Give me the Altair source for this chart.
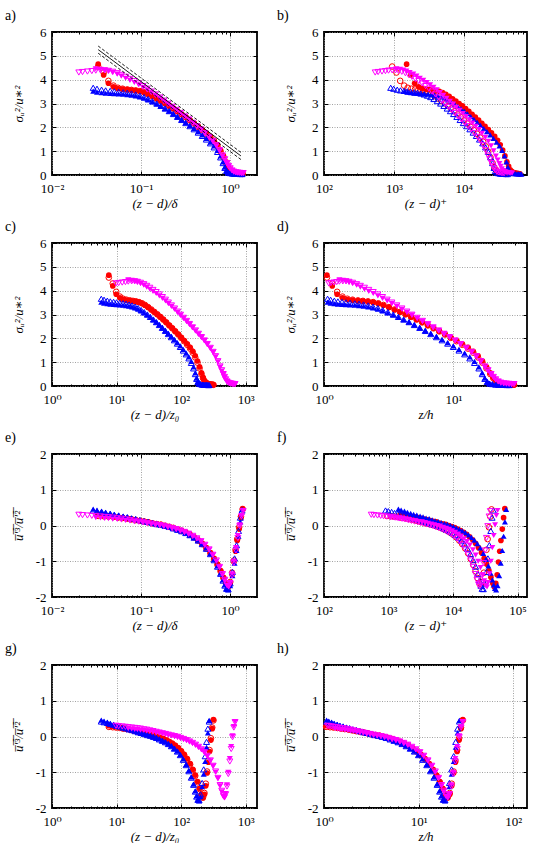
import altair as alt
import pandas as pd

FONT = "Liberation Serif, DejaVu Serif, serif"

# ---- wall-normal positions (z-d)/delta of the measurement points ----
red_pos = [0.033, 0.038, 0.043, 0.049, 0.055, 0.062, 0.070, 0.078, 0.087, 0.097,
           0.108, 0.120, 0.134, 0.150, 0.167, 0.186, 0.207, 0.230, 0.256, 0.285,
           0.317, 0.353, 0.393, 0.437, 0.486, 0.540, 0.600, 0.660, 0.720, 0.780,
           0.840, 0.900, 0.950, 1.000, 1.050, 1.100, 1.150, 1.200, 1.260, 1.320, 1.380]
blue_pos = [0.029, 0.032, 0.036, 0.040, 0.045, 0.050, 0.056, 0.063, 0.070, 0.078,
            0.087, 0.097, 0.108, 0.120, 0.134, 0.150, 0.167, 0.186, 0.207, 0.230,
            0.256, 0.285, 0.317, 0.353, 0.393, 0.437, 0.486, 0.540, 0.600, 0.660,
            0.720, 0.780, 0.830, 0.870, 0.910, 0.950, 1.000, 1.060, 1.120, 1.180,
            1.240, 1.300, 1.360]
mag_pos = [0.020, 0.022, 0.025, 0.028, 0.031, 0.035, 0.039, 0.043, 0.048, 0.054,
           0.060, 0.067, 0.075, 0.084, 0.094, 0.105, 0.117, 0.130, 0.145, 0.162,
           0.180, 0.200, 0.223, 0.248, 0.276, 0.307, 0.342, 0.380, 0.423, 0.470,
           0.520, 0.580, 0.640, 0.700, 0.760, 0.820, 0.870, 0.920, 0.960, 1.000,
           1.050, 1.100, 1.160, 1.220, 1.280, 1.340, 1.400]
mag_f_pos = [0.031, 0.035, 0.039, 0.043, 0.048, 0.054, 0.060, 0.067, 0.075, 0.084,
             0.094, 0.105, 0.117, 0.130, 0.145, 0.162, 0.180, 0.200, 0.223, 0.248,
             0.276, 0.307, 0.342, 0.380, 0.423, 0.470, 0.520, 0.580, 0.640, 0.700,
             0.760, 0.820, 0.870, 0.920, 0.960, 1.000, 1.050, 1.100, 1.160, 1.220,
             1.280, 1.340, 1.400]

# ---- streamwise variance sigma_u^2 / u*^2 ----
red_f_var = [4.65, 4.20, 3.85, 3.70, 3.63, 3.60, 3.58, 3.56, 3.54, 3.51,
             3.46, 3.39, 3.30, 3.20, 3.10, 3.00, 2.90, 2.79, 2.67, 2.55,
             2.43, 2.30, 2.17, 2.04, 1.91, 1.77, 1.62, 1.46, 1.27, 1.05,
             0.80, 0.55, 0.36, 0.22, 0.15, 0.11, 0.09, 0.08, 0.07, 0.06, 0.05]
red_o_var = [4.55, 4.30, 3.95, 3.75, 3.66, 3.62, 3.59, 3.57, 3.55, 3.52,
             3.47, 3.40, 3.31, 3.21, 3.11, 3.01, 2.90, 2.79, 2.67, 2.54,
             2.42, 2.29, 2.16, 2.02, 1.88, 1.73, 1.57, 1.40, 1.20, 0.98,
             0.74, 0.50, 0.33, 0.21, 0.14, 0.10, 0.08, 0.07, 0.06, 0.06, 0.05]
blue_f_var = [3.52, 3.48, 3.45, 3.43, 3.42, 3.41, 3.40, 3.39, 3.37, 3.35,
              3.32, 3.28, 3.22, 3.15, 3.07, 2.98, 2.88, 2.78, 2.68, 2.57,
              2.45, 2.33, 2.21, 2.08, 1.95, 1.82, 1.68, 1.54, 1.38, 1.22,
              1.03, 0.80, 0.55, 0.33, 0.18, 0.11, 0.08, 0.06, 0.06, 0.05,
              0.05, 0.05, 0.04]
blue_o_var = [3.66, 3.62, 3.58, 3.55, 3.53, 3.51, 3.49, 3.47, 3.45, 3.42,
              3.38, 3.33, 3.27, 3.19, 3.10, 3.00, 2.90, 2.79, 2.68, 2.56,
              2.44, 2.31, 2.18, 2.05, 1.92, 1.78, 1.64, 1.49, 1.33, 1.16,
              0.97, 0.74, 0.50, 0.30, 0.17, 0.10, 0.08, 0.06, 0.05, 0.05,
              0.05, 0.04, 0.04]
mag_f_var = [4.45, 4.43, 4.40, 4.36, 4.30, 4.23, 4.15, 4.06, 3.97, 3.88,
             3.78, 3.68, 3.57, 3.46, 3.34, 3.22, 3.09, 2.97, 2.84, 2.71,
             2.58, 2.45, 2.31, 2.18, 2.04, 1.90, 1.75, 1.58, 1.41, 1.22,
             1.01, 0.79, 0.63, 0.48, 0.36, 0.26, 0.18, 0.13, 0.11, 0.09,
             0.09, 0.08, 0.08]
mag_o_var = [4.30, 4.32, 4.34, 4.36, 4.38, 4.39, 4.39, 4.37, 4.33, 4.27,
             4.20, 4.12, 4.03, 3.94, 3.84, 3.73, 3.62, 3.50, 3.38, 3.25,
             3.12, 2.99, 2.86, 2.73, 2.60, 2.46, 2.33, 2.19, 2.05, 1.91,
             1.76, 1.60, 1.43, 1.25, 1.04, 0.82, 0.66, 0.50, 0.38, 0.28,
             0.19, 0.14, 0.11, 0.10, 0.09, 0.08, 0.08]

# ---- skewness u'^3 / u'^2 ----
red_f_skew = [0.30, 0.29, 0.27, 0.26, 0.24, 0.22, 0.20, 0.18, 0.16, 0.14,
              0.12, 0.10, 0.07, 0.05, 0.03, 0.00, -0.03, -0.06, -0.10, -0.14,
              -0.19, -0.25, -0.32, -0.40, -0.50, -0.62, -0.76, -0.92, -1.08, -1.26,
              -1.45, -1.62, -1.72, -1.62, -1.38, -1.02, -0.72, -0.42, -0.10, 0.22, 0.47]
red_o_skew = [0.27, 0.26, 0.25, 0.24, 0.22, 0.21, 0.19, 0.17, 0.15, 0.13,
              0.11, 0.09, 0.06, 0.04, 0.02, -0.01, -0.04, -0.07, -0.11, -0.15,
              -0.20, -0.26, -0.33, -0.42, -0.52, -0.64, -0.78, -0.94, -1.10, -1.28,
              -1.47, -1.63, -1.70, -1.58, -1.32, -0.98, -0.68, -0.38, -0.05, 0.25, 0.45]
blue_f_skew = [0.46, 0.43, 0.40, 0.37, 0.34, 0.31, 0.29, 0.26, 0.24, 0.21,
               0.19, 0.16, 0.13, 0.11, 0.08, 0.05, 0.03, 0.00, -0.03, -0.07,
               -0.11, -0.15, -0.20, -0.26, -0.33, -0.41, -0.51, -0.63, -0.78, -0.95,
               -1.13, -1.33, -1.52, -1.66, -1.76, -1.80, -1.68, -1.40, -1.05, -0.70,
               -0.30, 0.10, 0.45]
blue_o_skew = [0.42, 0.40, 0.38, 0.35, 0.33, 0.30, 0.28, 0.25, 0.23, 0.20,
               0.18, 0.15, 0.12, 0.10, 0.07, 0.04, 0.02, -0.01, -0.04, -0.08,
               -0.12, -0.16, -0.21, -0.27, -0.34, -0.42, -0.52, -0.65, -0.80, -0.97,
               -1.15, -1.35, -1.54, -1.68, -1.77, -1.78, -1.62, -1.30, -0.92, -0.55,
               -0.15, 0.22, 0.42]
mag_f_skew = [0.22, 0.21, 0.20, 0.19, 0.18, 0.17, 0.16, 0.14, 0.13, 0.11,
              0.10, 0.08, 0.06, 0.04, 0.02, 0.00, -0.02, -0.05, -0.08, -0.11,
              -0.15, -0.19, -0.24, -0.30, -0.37, -0.45, -0.55, -0.68, -0.83, -1.00,
              -1.18, -1.38, -1.55, -1.68, -1.72, -1.60, -1.35, -1.00, -0.62, -0.28,
              0.02, 0.28, 0.42]
mag_o_skew = [0.30, 0.29, 0.28, 0.27, 0.26, 0.25, 0.24, 0.23, 0.22, 0.20,
              0.19, 0.17, 0.15, 0.13, 0.11, 0.09, 0.07, 0.05, 0.03, 0.01,
              -0.01, -0.04, -0.07, -0.10, -0.14, -0.18, -0.23, -0.29, -0.36, -0.44,
              -0.54, -0.67, -0.82, -0.98, -1.16, -1.36, -1.52, -1.65, -1.70, -1.62,
              -1.40, -1.05, -0.70, -0.35, -0.02, 0.25, 0.40]

# ---- per-case scaling constants ----
series_keys = ["rf", "ro", "bf", "bo", "mf", "mo"]
positions = [red_pos, red_pos, blue_pos, blue_pos, mag_f_pos, mag_pos]
variances = [red_f_var, red_o_var, blue_f_var, blue_o_var, mag_f_var, mag_o_var]
skews = [red_f_skew, red_o_skew, blue_f_skew, blue_o_skew, mag_f_skew, mag_o_skew]
delta_plus = [46000, 28600, 49000, 31000, 35000, 27000]
delta_over_z0 = [230, 230, 200, 200, 490, 490]
delta_over_h = [21.0, 21.0, 19.5, 19.5, 20.5, 20.5]
d_over_h = [0.36, 0.36, 0.50, 0.50, 0.68, 0.68]
colors = ["#ff0000", "#ff0000", "#0000ff", "#0000ff", "#ff00ff", "#ff00ff"]
shapes = ["circle", "circle", "triangle-up", "triangle-up", "triangle-down", "triangle-down"]
filled = [True, False, True, False, True, False]

# log-law reference lines in panel a): endpoints
loglaw_x = [0.033, 1.32]
loglaw_mid = [5.26, 0.80]
loglaw_hi = [5.41, 0.95]
loglaw_lo = [5.11, 0.65]

rows = []
for i, key in enumerate(series_keys):
    for p, v, s in zip(positions[i], variances[i], skews[i]):
        rows.append({
            "series": key,
            "xd": p,
            "xp": p * delta_plus[i],
            "xz": p * delta_over_z0[i],
            "xh": p * delta_over_h[i] + d_over_h[i],
            "var": v,
            "skew": s,
        })
df = pd.DataFrame(rows)

lines_df = pd.DataFrame({
    "x": loglaw_x * 3,
    "y": loglaw_mid + loglaw_hi + loglaw_lo,
    "line": ["mid"] * 2 + ["hi"] * 2 + ["lo"] * 2,
})

EXP_LABEL = ("['10\u207b\u00b2','10\u207b\u00b9','10\u2070','10\u00b9','10\u00b2',"
             "'10\u00b3','10\u2074','10\u2075'][round(log(datum.value)/LN10)+2]")
GRID = dict(grid=True, gridColor="#8a8a8a", gridDash=[1, 1.5], gridWidth=0.8, gridOpacity=1)

Y_VAR = "\u03c3\u1d64\u00b2/u\u2217\u00b2"
Y_SKEW = "u\u0305\u2032\u0305\u00b3\u0305/u\u0305\u2032\u0305\u00b2\u0305"

H = 143
LABEL_SIZE = 13
TITLE_SIZE = 13


def decade_ticks(lo, hi):
    major, minor = [], []
    for k in range(-3, 7):
        base = 10.0 ** k
        if lo * 0.999 <= base <= hi * 1.001:
            major.append(base)
        for m in range(2, 10):
            v = m * base
            if lo < v < hi:
                minor.append(v)
    return major, minor


def tick_axis(orient, values, size):
    return alt.Axis(orient=orient, values=values, labels=False, domain=False, grid=False,
                    ticks=True, tickSize=size, offset=-size, tickColor="black",
                    tickWidth=1, title=None)


def panel(letter, xcol, xdom, ycol, ydom, yvals, xtitle, ytitle, width, loglaw=False):
    major, minor = decade_ticks(*xdom)
    xs = alt.Scale(type="log", domain=xdom, nice=False)
    ys = alt.Scale(domain=ydom, nice=False, zero=False)

    x_main = alt.Axis(values=major, labelExpr=EXP_LABEL, title=xtitle, ticks=False, tickSize=0,
                      domain=False, labelFlush=False, labelOverlap=False, labelBound=False,
                      labelPadding=7, labelFont=FONT, labelFontSize=LABEL_SIZE, labelColor="black",
                      titleFont=FONT, titleFontSize=TITLE_SIZE, titleFontStyle="italic",
                      titleFontWeight="normal", titleColor="black", titleX=width / 2,
                      titleY=28, titleAlign="center", titleBaseline="middle", **GRID)
    y_main = alt.Axis(values=yvals, labelExpr="replace(datum.label, '\u2212', '-')",
                      title=ytitle, ticks=False, tickSize=0, domain=False, labelPadding=6,
                      labelFont=FONT, labelFontSize=LABEL_SIZE, labelColor="black",
                      titleFont=FONT, titleFontSize=TITLE_SIZE, titleFontStyle="italic",
                      titleFontWeight="normal", titleColor="black", titleX=-34,
                      titleY=H / 2, titleAngle=270, titleAlign="center",
                      titleBaseline="middle", **GRID)

    layers = []
    for i, key in enumerate(series_keys):
        layers.append(
            alt.Chart(df).transform_filter(alt.datum.series == key).mark_point(
                shape=shapes[i], filled=filled[i], color=colors[i],
                size=32 if shapes[i] == "circle" else 36, strokeWidth=1, opacity=1,
            ).encode(
                x=alt.X(f"{xcol}:Q", scale=xs, axis=x_main if i == 0 else None),
                y=alt.Y(f"{ycol}:Q", scale=ys, axis=y_main if i == 0 else None),
            )
        )

    if loglaw:
        base = alt.Chart(lines_df)
        layers.append(base.transform_filter(alt.datum.line == "mid").mark_line(
            color="black", strokeWidth=0.9).encode(
            x=alt.X("x:Q", scale=xs, axis=None), y=alt.Y("y:Q", scale=ys, axis=None)))
        layers.append(base.transform_filter(alt.datum.line != "mid").mark_line(
            color="black", strokeWidth=0.9, strokeDash=[3, 2]).encode(
            x=alt.X("x:Q", scale=xs, axis=None), y=alt.Y("y:Q", scale=ys, axis=None),
            detail="line:N"))

    frame = pd.DataFrame({"fx": list(xdom), "fy": list(ydom)})
    fb = alt.Chart(frame).mark_point(opacity=0)
    layers.append(fb.encode(x=alt.X("fx:Q", scale=xs, axis=tick_axis("bottom", major, 4)),
                            y=alt.Y("fy:Q", scale=ys, axis=tick_axis("left", yvals, 4))))
    layers.append(fb.encode(x=alt.X("fx:Q", scale=xs, axis=tick_axis("top", major, 4)),
                            y=alt.Y("fy:Q", scale=ys, axis=tick_axis("right", yvals, 4))))
    layers.append(fb.encode(x=alt.X("fx:Q", scale=xs, axis=tick_axis("bottom", minor, 2)),
                            y=alt.Y("fy:Q", scale=ys, axis=None)))
    layers.append(fb.encode(x=alt.X("fx:Q", scale=xs, axis=tick_axis("top", minor, 2)),
                            y=alt.Y("fy:Q", scale=ys, axis=None)))

    label = alt.Chart(pd.DataFrame({"t": [letter]})).mark_text(
        align="left", baseline="middle", font=FONT, fontSize=14, color="black").encode(
        x=alt.value(-47), y=alt.value(-16), text="t:N")
    layers.append(label)

    return alt.layer(*layers).resolve_axis(x="independent", y="independent").properties(
        width=width, height=H)


W1, W2 = 205, 203
var_ticks = [0, 1, 2, 3, 4, 5, 6]
skew_ticks = [-2, -1, 0, 1, 2]

pa = panel("a)", "xd", [0.01, 2], "var", [0, 6], var_ticks, "(z \u2212 d)/\u03b4", Y_VAR, W1, loglaw=True)
pb = panel("b)", "xp", [100, 80000], "var", [0, 6], var_ticks, "(z \u2212 d)\u207a", Y_VAR, W2)
pc = panel("c)", "xz", [1, 1500], "var", [0, 6], var_ticks, "(z \u2212 d)/z\u2080", Y_VAR, W1)
pd_ = panel("d)", "xh", [1, 37], "var", [0, 6], var_ticks, "z/h", Y_VAR, W2)
pe = panel("e)", "xd", [0.01, 2], "skew", [-2, 2], skew_ticks, "(z \u2212 d)/\u03b4", Y_SKEW, W1)
pf = panel("f)", "xp", [100, 140000], "skew", [-2, 2], skew_ticks, "(z \u2212 d)\u207a", Y_SKEW, W2)
pg = panel("g)", "xz", [1, 1500], "skew", [-2, 2], skew_ticks, "(z \u2212 d)/z\u2080", Y_SKEW, W1)
ph = panel("h)", "xh", [1, 140], "skew", [-2, 2], skew_ticks, "z/h", Y_SKEW, W2)

chart = alt.concat(pa, pb, pc, pd_, pe, pf, pg, ph, columns=2,
                   spacing={"row": 68, "column": 67}, bounds="flush").properties(
    padding={"left": 4, "top": 8, "right": 2, "bottom": 2},
    background="white",
).configure_view(stroke="black", strokeWidth=1.8)

chart.save("out.html", embed_options={"renderer": "svg", "actions": False})
